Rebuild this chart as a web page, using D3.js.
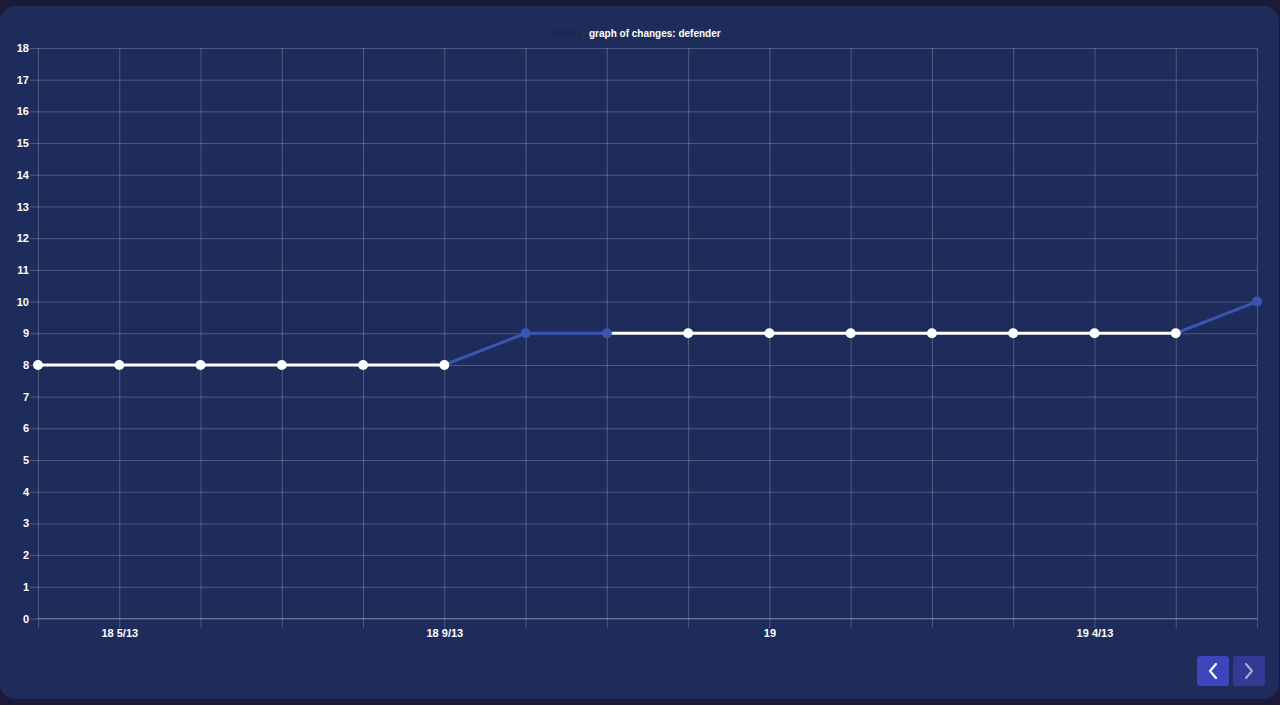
<!DOCTYPE html>
<html><head><meta charset="utf-8">
<script src="https://cdn.jsdelivr.net/npm/d3@7"></script>
<style>
html,body{margin:0;padding:0;background:#1b1a38;}
svg{display:block;}
</style></head>
<body>
<svg id="c" width="1280" height="705"></svg>
<script>
const labels = ["", "18 5/13", "", "", "", "18 9/13", "", "", "", "19", "", "", "", "19 4/13", "", ""];
const values = [8, 8, 8, 8, 8, 8, 9, 9, 9, 9, 9, 9, 9, 9, 9, 10];
const pointColors = ["w","w","w","w","w","w","b","b","w","w","w","w","w","w","w","b"];
const yTicks = d3.range(0, 19);
const legendLabel = "graph of changes: defender";

const WHITE = "#ffffff", BLUE = "#3a55b1";
const FONT = "Liberation Sans, Arial, sans-serif";
const svg = d3.select("#c");
svg.append("rect").attr("width",1280).attr("height",705).attr("fill","#1b1a38");
svg.append("rect").attr("x",0).attr("y",6).attr("width",1279).attr("height",693).attr("rx",15).attr("fill","#1e2c5c");

const x = d3.scalePoint().domain(d3.range(values.length)).range([38, 1257]);
const y = d3.scaleLinear().domain([0, 18]).range([618.5, 48]);
const grid = "rgba(255,255,255,0.22)";

// horizontal grid
const yAxis = d3.axisLeft(y).tickValues(yTicks).tickSize(8).tickPadding(1).tickFormat(d3.format("d"));
const gy = svg.append("g").attr("transform","translate(38,0)").call(yAxis);
gy.select(".domain").remove();
gy.selectAll(".tick line").attr("stroke",grid).attr("x2",-8);
gy.selectAll(".tick").append("line").attr("x1",0).attr("x2",1257-38).attr("stroke",grid);
gy.selectAll(".tick text").attr("fill","#fff").attr("font-family",FONT).attr("font-size","11px").attr("font-weight","bold");

// vertical grid
const xAxis = d3.axisBottom(x).tickSize(10).tickPadding(1).tickFormat(i => labels[i]);
const gx = svg.append("g").attr("transform","translate(0,618)").call(xAxis);
gx.select(".domain").remove();
gx.selectAll(".tick line").attr("stroke",grid);
gx.selectAll(".tick").append("line").attr("y1",0).attr("y2",-570).attr("stroke",grid);
gx.selectAll(".tick text").attr("fill","#fff").attr("font-family",FONT).attr("font-size","11px").attr("font-weight","bold");
svg.append("line").attr("x1",38).attr("x2",1257).attr("y1",y(0)).attr("y2",y(0)).attr("stroke","rgba(255,255,255,0.25)");

// line segments
const segs = d3.range(values.length-1).map(i => ({i}));
svg.append("g").selectAll("line").data(segs).join("line")
  .attr("x1", d => x(d.i)).attr("y1", d => y(values[d.i]))
  .attr("x2", d => x(d.i+1)).attr("y2", d => y(values[d.i+1]))
  .attr("stroke", d => pointColors[d.i+1]==="w" ? WHITE : BLUE)
  .attr("stroke-width", 3).attr("stroke-linecap","round");

svg.append("g").selectAll("circle").data(values).join("circle")
  .attr("cx",(d,i)=>x(i)).attr("cy",d=>y(d)).attr("r",5)
  .attr("fill",(d,i)=>pointColors[i]==="w"?WHITE:BLUE);

// legend
svg.append("rect").attr("x",547.5).attr("y",27.5).attr("width",36).attr("height",12).attr("fill","#1c2a56").attr("stroke","#22305e");
svg.append("text").attr("x",589).attr("y",37).attr("fill","#fff").attr("font-family",FONT).attr("font-size","10px").attr("font-weight","bold").text(legendLabel);

// buttons
const b1 = svg.append("g");
b1.append("rect").attr("x",1197).attr("y",656).attr("width",32).attr("height",30).attr("rx",3).attr("fill","#3e46bd");
b1.append("path").attr("d","M1216,664 L1210,671 L1216,678").attr("fill","none").attr("stroke","#fff").attr("stroke-width",2.2).attr("stroke-linecap","round").attr("stroke-linejoin","round");
const b2 = svg.append("g");
b2.append("rect").attr("x",1233).attr("y",656).attr("width",32).attr("height",30).attr("rx",3).attr("fill","#313b96");
b2.append("path").attr("d","M1246,664 L1252,671 L1246,678").attr("fill","none").attr("stroke","#a9aed6").attr("stroke-width",2).attr("stroke-linecap","round").attr("stroke-linejoin","round");
</script>
</body></html>
